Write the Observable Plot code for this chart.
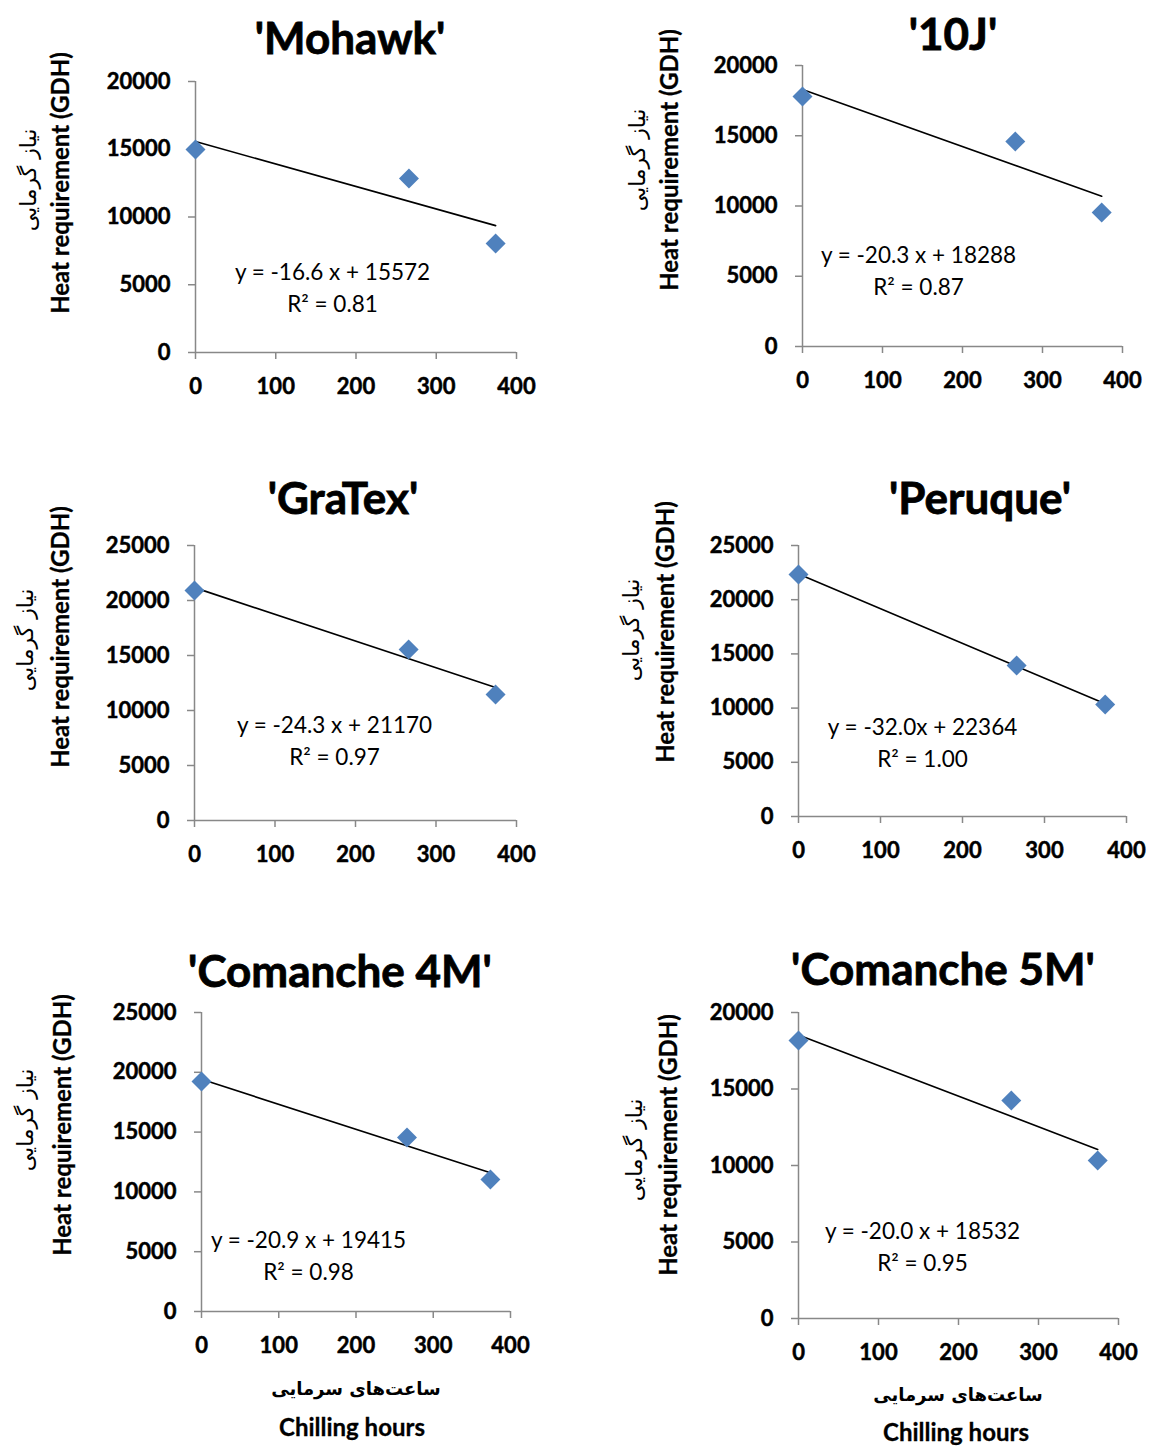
<!DOCTYPE html>
<html>
<head>
<meta charset="utf-8">
<script src="https://cdn.jsdelivr.net/npm/d3@7"></script>
<script src="https://cdn.jsdelivr.net/npm/@observablehq/plot@0.6"></script>
<style>
  html, body { margin: 0; padding: 0; background: #fff; }
  #root { position: relative; width: 1149px; height: 1448px; overflow: hidden; font-family: Lato, "DejaVu Sans", sans-serif; }
  .abs { position: absolute; white-space: nowrap; transform: translate(-50%, -50%); color: #000; line-height: 1.05; }
  .title { font-size: 44px; font-weight: bold; -webkit-text-stroke: 0.8px #000; }
  .ylab { font-size: 24px; font-weight: bold; transform: translate(-50%, -50%) rotate(-90deg); -webkit-text-stroke: 0.3px #000; }
  .ylabfa { font-size: 22px; transform: translate(-50%, -50%) rotate(-90deg); font-family: "DejaVu Sans", sans-serif; }
  .xlab { font-size: 24px; font-weight: bold; -webkit-text-stroke: 0.3px #000; }
  .xlabfa { font-size: 18px; font-weight: bold; font-family: "DejaVu Sans", sans-serif; }
  svg { position: absolute; }
  svg g[aria-label="y-axis tick label"] text, svg g[aria-label="x-axis tick label"] text { stroke: #000; stroke-width: 0.5px; }
</style>
</head>
<body>
<div id="root"></div>
<script>
// ---- data ----
const cultivars = ["'Mohawk'", "'10J'", "'GraTex'", "'Peruque'", "'Comanche 4M'", "'Comanche 5M'"];
const chillHours = [0, 266, 374];
const heatMohawk = [14980, 12840, 8040];
const heat10J = [17790, 14590, 9540];
const heatGraTex = [20910, 15550, 11450];
const heatPeruque = [22330, 13930, 10330];
const heatComanche4M = [19230, 14550, 11040];
const heatComanche5M = [18170, 14250, 10330];
const heatSeries = [heatMohawk, heat10J, heatGraTex, heatPeruque, heatComanche4M, heatComanche5M];
const slopes = [-16.6, -20.3, -24.3, -32.0, -20.9, -20.0];
const intercepts = [15572, 18288, 21170, 22364, 19415, 18532];
const equations = ["y = -16.6 x + 15572", "y = -20.3 x + 18288", "y = -24.3 x + 21170", "y = -32.0x + 22364", "y = -20.9 x + 19415", "y = -20.0 x + 18532"];
const r2Labels = ["R² = 0.81", "R² = 0.87", "R² = 0.97", "R² = 1.00", "R² = 0.98", "R² = 0.95"];
const yMax = [20000, 20000, 25000, 25000, 25000, 20000];
const xTicks = [0, 100, 200, 300, 400];
const yLabel = "Heat requirement (GDH)";
const yLabelFa = "نیاز گرمایی";
const xLabel = "Chilling hours";
const xLabelFa = "ساعت‌های سرمایی";

// ---- layout (pixel frame of each plot area, title / label centres) ----
const layout = [
  {l: 195, r: 516, t: 81,   b: 352,  title: [350, 37],  eq: [137, 191], ylab: [60, 183],   ylabfa: [29, 180]},
  {l: 802, r: 1122, t: 65,  b: 346,  title: [953, 33],  eq: [116, 190], ylab: [669, 160],  ylabfa: [638, 160]},
  {l: 194, r: 516, t: 545,  b: 820,  title: [343, 497], eq: [140, 180], ylab: [60, 637],   ylabfa: [26, 640]},
  {l: 798, r: 1126, t: 545, b: 816,  title: [980, 497], eq: [124, 182], ylab: [665, 632],  ylabfa: [632, 630]},
  {l: 201, r: 510, t: 1012, b: 1311, title: [340, 970], eq: [107, 228], ylab: [62, 1125],  ylabfa: [26, 1120]},
  {l: 798, r: 1118, t: 1012, b: 1318, title: [943, 968], eq: [124, 219], ylab: [668, 1145], ylabfa: [635, 1150]}
];
const xLabels = [{fa: [356, 1389], en: [352, 1427]}, {fa: [958, 1395], en: [956, 1432]}];

const root = document.getElementById("root");
const ML = 110, MR = 40, MT = 20, MB = 60;
const axisGray = "#888888";
const font = "Lato, 'DejaVu Sans', sans-serif";

function addDiv(cls, text, [x, y]) {
  const d = document.createElement("div");
  d.className = "abs " + cls;
  d.textContent = text;
  d.style.left = x + "px";
  d.style.top = y + "px";
  root.appendChild(d);
}

cultivars.forEach((name, i) => {
  const L = layout[i];
  const pts = chillHours.map((c, k) => ({x: c, y: heatSeries[i][k]}));
  const xEnd = d3.max(chillHours);
  const trend = [0, xEnd].map(x => ({x, y: intercepts[i] + slopes[i] * x}));
  const yTicks = d3.range(0, yMax[i] + 1, 5000);
  const chart = Plot.plot({
    width: (L.r - L.l) + ML + MR,
    height: (L.b - L.t) + MT + MB,
    marginLeft: ML, marginRight: MR, marginTop: MT, marginBottom: MB,
    style: {fontFamily: font, fontSize: "22px", background: "transparent", overflow: "visible"},
    x: {domain: [0, 400]},
    y: {domain: [0, yMax[i]]},
    marks: [
      Plot.ruleX([0], {stroke: axisGray, strokeWidth: 1.5}),
      Plot.ruleY([0], {stroke: axisGray, strokeWidth: 1.5}),
      Plot.axisY({ticks: yTicks, tickSize: 7, tickPadding: 18, stroke: axisGray, strokeWidth: 1.5, fill: "#000",
        fontSize: 22, fontWeight: "bold", fontFamily: font, tickFormat: d => String(d), label: null}),
      Plot.axisX({ticks: xTicks, tickSize: 7, tickPadding: 19, stroke: axisGray, strokeWidth: 1.5, fill: "#000",
        fontSize: 22, fontWeight: "bold", fontFamily: font, tickFormat: d => String(d), label: null}),
      Plot.line(trend, {x: "x", y: "y", stroke: "#000", strokeWidth: 1.6}),
      Plot.dot(pts, {x: "x", y: "y", symbol: "diamond2", r: 9, fill: "#4F81BD", stroke: "none"}),
      Plot.text([equations[i]], {frameAnchor: "top-left", dx: L.eq[0], dy: L.eq[1], text: d => d,
        fontSize: 22.5, fontFamily: font, textAnchor: "middle", lineAnchor: "middle", fill: "#000"}),
      Plot.text([r2Labels[i]], {frameAnchor: "top-left", dx: L.eq[0], dy: L.eq[1] + 32, text: d => d,
        fontSize: 22.5, fontFamily: font, textAnchor: "middle", lineAnchor: "middle", fill: "#000"})
    ]
  });
  chart.style.left = (L.l - ML) + "px";
  chart.style.top = (L.t - MT) + "px";
  root.appendChild(chart);
  addDiv("title", name, L.title);
  addDiv("ylab", yLabel, L.ylab);
  addDiv("ylabfa", yLabelFa, L.ylabfa);
});
xLabels.forEach(p => {
  addDiv("xlabfa", xLabelFa, p.fa);
  addDiv("xlab", xLabel, p.en);
});
</script>
</body>
</html>
